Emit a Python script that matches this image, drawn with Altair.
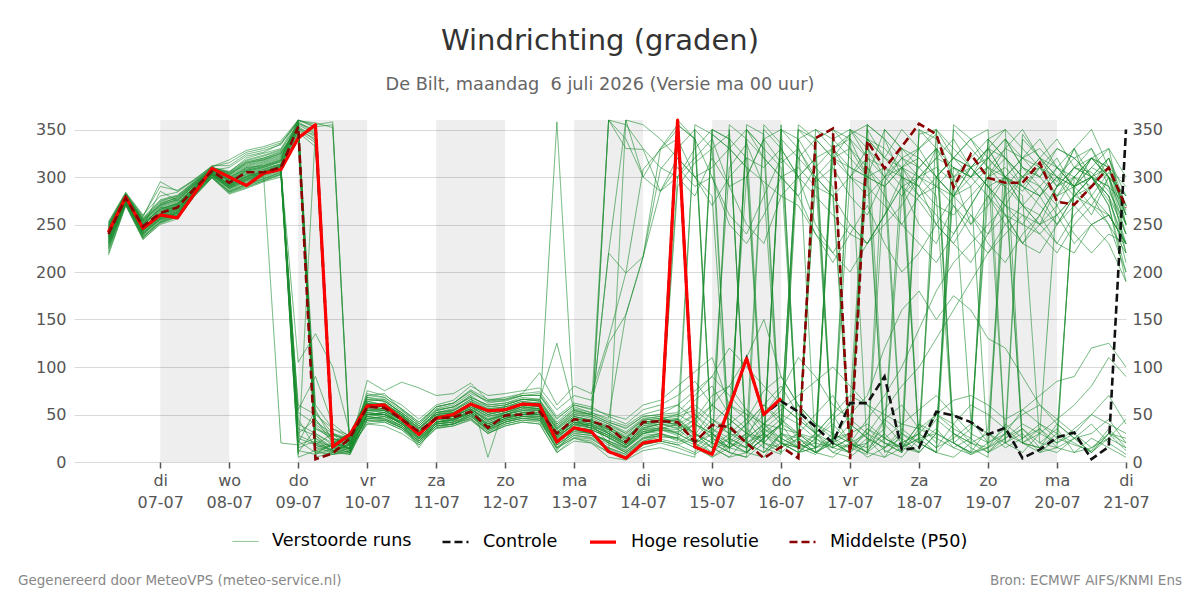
import altair as alt
import pandas as pd

FONT = "DejaVu Sans"

# Forecast steps: hours after maandag 06-07 00 uur, every 6 hours up to 21-07 00 uur
hours = [6 + 6 * i for i in range(60)]

# Hoge resolutie run (runs until 16-07 00 uur)
hres = [242, 279, 246, 260, 257, 283, 309, 300, 291, 304,
        308, 341, 355, 16, 29, 59, 60, 45, 29, 46,
        50, 61, 54, 55, 61, 60, 21, 36, 32, 11,
        4, 20, 23, 360, 16, 8, 58, 109, 50, 67]

# Controle run
control = hres[:39] + [64, 53, 37, 20, 62, 62, 90, 13, 15, 53, 49,
                       42, 29, 36, 4, 13, 26, 31, 3, 16, 350]

# Middelste (P50) of the ensemble
p50 = [240, 278, 248, 262, 268, 288, 306, 294, 305, 305, 310,
       353, 3, 9, 25,
       58, 57, 45, 32, 46, 47, 53, 36, 49, 50, 53,
       30, 45, 43, 37, 21, 42, 43,
       42, 21, 39, 37, 20, 4, 16,
       4, 341, 351, 3, 338, 309, 332, 356, 345, 289,
       324, 299, 294, 294, 315, 274, 271, 290, 310, 268]

# Verstoorde runs (50 members)
perturbed_runs = [
    [238,276,245,258,262,285,304,292,300,306,312, 352,18,12,20, 55,52,40,28,44,48,58,45,50,56,55, 30,42,38,25,15,30,35,
     40,28,55,310,335,290,20,15,300,320,345,12,30,280,300,310,295,45,20,290,310,300,320,285,260,300,240],
    [232,274,240,255,260,283,302,288,296,302,308, 15,22,12,18, 62,58,48,35,50,52,60,50,54,60,58, 25,40,45,30,20,35,40,
     45,20,30,15,25,60,40,350,330,20,10,35,25,15,40,30,20,10,35,300,285,310,295,330,280,305,270],
    [245,280,252,266,272,290,308,298,310,312,318, 355,30,20,15, 48,45,38,22,40,42,55,38,46,52,50, 18,30,28,15,8,22,28,
     290,315,330,345,10,25,340,320,300,280,15,8,295,320,310,330,20,35,280,250,230,260,290,310,300,275,230],
    [225,272,238,252,258,282,300,285,292,298,305, 30,45,20,14, 66,64,52,38,55,58,68,60,62,66,65, 40,55,50,42,35,48,50,
     60,45,70,80,55,40,25,15,30,50,20,10,45,60,35,25,15,8,20,30,55,40,25,18,12,35,15],
    [250,282,255,270,276,292,306,302,315,318,325, 355,345,20,15, 40,38,30,18,35,38,45,30,38,42,40, 10,25,20,5,2,12,15,
     10,5,350,340,320,15,8,355,340,20,300,330,310,290,275,250,230,260,240,280,300,320,290,310,305,285,250],
    [218,270,235,250,256,280,299,282,288,295,300, 8,350,15,10, 58,62,50,30,48,50,62,55,55,62,62, 28,38,40,20,10,25,30,
     25,40,30,50,300,340,350,20,10,330,345,355,25,15,10,30,290,310,320,300,270,250,290,330,350,310,260],
    [242,279,250,264,270,289,307,296,306,310,316, 348,45,25,18, 70,72,55,40,58,62,75,62,65,70,72, 45,60,55,50,45,60,65,
     80,95,110,60,45,75,90,60,40,25,50,70,120,160,180,150,175,160,130,120,90,60,45,30,50,70,40],
    [236,277,246,260,268,287,305,293,303,300,20, 18,25,10,8, 45,48,42,25,42,45,50,35,44,48,46, 12,35,32,360,355,330,310,
     300,280,320,290,300,340,315,330,295,310,280,260,300,320,330,345,300,310,290,270,250,280,300,290,320,310,290],
    [248,281,256,275,280,295,310,305,320,325,330, 360,352,25,18, 52,50,42,30,45,46,52,40,48,50,52, 26,40,38,30,18,38,40,
     35,20,5,15,30,355,335,10,25,40,20,30,12,5,25,30,310,290,10,20,340,320,310,290,300,320,260],
    [230,275,242,257,264,284,303,290,298,304,310, 40,30,18,22, 62,55,45,32,48,50,58,48,52,58,56, 30,48,42,38,25,40,45,
     50,60,45,30,25,40,35,30,20,15,25,10,350,330,320,300,280,310,330,320,300,290,310,330,300,280,220],
    [244,278,249,268,266,288,306,300,308,314,320, 358,10,8,12, 50,50,40,25,42,44,52,36,45,50,50, 20,35,30,22,15,28,30,
     25,15,30,10,5,20,355,10,15,25,8,340,320,310,290,330,300,250,270,300,320,310,290,300,280,260,230],
    [228,273,239,256,262,286,304,287,294,300,306, 5,12,8,15, 56,60,48,34,52,55,66,56,58,64,60, 35,50,48,40,30,45,48,
     40,65,80,50,35,20,40,60,30,10,5,20,45,30,15,50,35,25,10,30,20,15,40,25,10,30,12],
    [252,283,258,295,285,298,311,318,328,332,338, 360,355,358,12, 75,70,60,45,60,65,80,70,72,75,78, 55,70,65,125,155,216,285,
     300,320,340,290,250,230,280,270,240,220,250,230,260,300,290,250,230,210,240,260,230,250,270,240,220,240,230],
    [240,277,247,263,270,290,308,295,305,309,314, 345,25,15,22, 48,46,36,20,38,40,50,32,42,48,46, 15,28,25,12,5,18,22,
     18,10,25,40,20,10,30,25,15,340,350,320,300,280,310,330,30,20,340,320,300,310,280,290,300,320,270],
    [234,276,243,259,265,285,302,289,297,303,309, 52,40,25,20, 60,58,46,30,46,50,60,52,54,60,60, 30,45,42,35,22,40,42,
     45,30,20,350,10,25,40,30,50,70,40,25,15,35,20,45,30,20,15,40,25,35,20,30,15,25,45],
    [246,280,254,272,278,293,309,304,316,320,327, 350,340,15,22, 42,44,36,22,38,40,48,34,42,46,44, 22,32,30,20,12,25,28,
     355,340,20,10,5,350,330,300,320,15,25,310,280,250,230,210,240,270,300,310,290,270,250,280,300,290,240],
    [222,271,236,253,260,281,300,284,290,296,302, 25,18,30,12, 64,66,50,36,52,56,70,58,60,66,64, 38,52,50,220,199,308,329,
     350,20,345,330,310,295,280,300,320,330,340,300,290,310,20,10,300,320,340,350,330,310,300,290,320,300,260],
    [239,278,248,285,275,292,307,310,322,326,335, 358,348,30,25, 54,56,44,28,46,50,60,46,52,58,56, 28,42,40,30,20,32,36,
     30,45,60,80,110,150,90,60,40,30,20,45,70,100,140,180,210,230,250,270,260,240,220,250,270,260,230],
    [243,279,251,266,273,291,309,299,309,313,319, 360,38,22,10, 50,52,42,26,42,45,54,40,48,52,52, 24,38,36,28,18,30,34,
     28,40,25,15,355,345,20,30,15,350,340,320,10,20,30,15,25,40,30,20,35,15,10,25,40,20,8],
    [231,274,241,256,263,284,303,291,299,305,311, 12,8,20,25, 58,54,44,30,46,48,56,44,50,56,54, 32,44,40,34,24,42,44,
     38,25,15,30,45,20,10,340,350,330,310,300,20,10,350,340,320,300,310,330,320,300,280,310,330,300,250],
    [247,281,253,270,277,294,308,303,313,318,324, 352,338,12,10, 44,42,34,18,36,40,46,30,40,44,42, 15,25,22,10,360,355,340,
     320,300,280,15,10,5,30,20,10,25,350,330,300,310,320,300,280,290,310,20,30,10,15,300,320,310,270],
    [237,276,244,261,267,286,304,292,301,306,312, 350,12,18,25, 68,66,54,40,56,60,72,64,64,70,70, 42,58,52,44,38,50,55,
     60,75,90,70,50,40,55,70,85,100,80,60,50,40,35,50,65,70,60,45,55,70,85,90,120,125,100],
    [226,273,238,254,261,283,301,286,293,299,305, 60,50,35,28, 62,60,48,32,50,52,62,54,56,62,60, 34,48,44,36,28,44,46,
     42,30,350,20,15,30,10,25,300,280,250,230,260,290,300,320,310,300,280,260,250,240,260,280,270,250,220],
    [249,282,257,276,281,296,310,306,318,323,329, 356,350,18,28, 46,48,38,24,40,42,50,36,44,48,48, 20,34,30,22,12,26,30,
     22,355,345,330,310,10,20,15,8,25,30,355,340,320,300,280,20,10,15,30,345,320,300,280,290,310,250],
    [241,278,249,264,271,289,306,297,307,311,317, 353,52,30,20, 56,54,44,30,46,48,56,42,50,54,54, 28,42,38,32,20,36,40,
     36,50,30,20,40,60,45,30,15,20,10,25,5,15,40,20,350,330,310,300,320,340,310,290,300,280,210],
    [233,275,242,258,265,285,303,290,298,304,310, 35,28,15,10, 50,50,40,26,42,44,52,38,46,50,50, 22,36,34,26,16,32,36,
     360,340,15,5,25,40,20,10,30,320,330,310,290,15,25,300,320,340,350,20,10,30,280,300,320,330,300],
    [245,280,252,268,274,292,308,301,311,316,322, 347,332,22,14, 72,68,56,42,58,62,76,66,66,72,74, 48,62,58,48,40,55,60,
     70,85,60,45,30,50,75,110,90,60,45,30,55,80,100,130,160,190,220,240,260,250,230,260,280,250,200],
    [235,276,245,260,266,286,304,291,300,305,311, 342,20,10,15, 40,42,34,20,36,38,44,30,38,42,40, 10,22,20,10,5,15,20,
     15,8,20,10,350,330,15,25,10,5,20,15,30,10,345,350,320,310,290,300,280,20,35,10,15,30,25],
    [220,270,234,251,258,280,299,283,289,296,303, 20,55,22,30, 60,62,50,36,50,54,64,54,58,62,62, 36,50,46,38,30,44,46,
     48,55,40,30,20,35,50,40,25,15,350,340,330,310,300,290,270,250,280,300,290,310,330,320,300,280,240],
    [251,283,259,290,286,297,311,315,326,330,336, 359,357,352,8, 52,50,42,28,44,46,54,40,48,52,50, 358,45,35,360,340,300,285,
     310,290,300,250,230,260,300,280,240,210,240,270,230,200,220,250,280,260,230,210,240,260,230,220,250,230,190],
    [240,277,248,262,269,288,306,295,304,308,313, 356,8,14,28, 64,60,50,34,52,54,64,56,58,64,62, 36,52,48,40,32,46,48,
     50,40,60,45,30,25,350,340,10,20,30,40,25,15,30,50,40,20,10,25,40,30,20,35,50,40,30],
    [229,274,240,255,262,284,302,288,295,301,307, 45,15,10,18, 46,44,36,22,38,40,48,34,42,46,44, 16,28,26,15,8,20,24,
     20,30,15,5,10,35,25,15,20,340,320,300,350,330,310,290,280,300,320,340,310,290,270,300,320,300,280],
    [246,281,254,271,279,294,309,304,315,320,326, 353,342,10,20, 58,56,46,32,48,50,60,50,54,58,58, 30,46,42,34,26,42,44,
     44,350,330,20,10,25,40,340,310,290,15,20,35,310,280,260,240,270,300,330,350,320,300,270,250,260,230],
    [238,277,246,261,268,287,305,293,302,307,313, 349,35,25,12, 54,52,44,30,46,48,56,44,50,54,54, 26,40,36,28,18,34,38,
     30,20,40,60,50,30,20,10,15,30,20,10,25,40,55,70,50,30,20,35,50,60,40,25,30,45,20],
    [244,279,250,267,272,290,307,298,308,312,318, 357,15,20,30, 66,64,52,38,54,58,68,60,62,68,66, 40,56,52,46,155,216,308,
     330,350,20,15,340,320,300,280,310,330,300,290,270,250,280,300,320,310,330,300,290,280,310,290,270,300,220],
    [227,272,237,253,260,282,300,285,292,298,304, 10,35,28,24, 48,50,40,24,40,44,52,38,46,50,48, 18,32,30,20,10,24,28,
     24,15,5,20,30,15,350,330,300,20,10,355,340,300,20,10,30,15,5,340,320,330,310,300,290,320,280],
    [250,282,256,274,280,295,310,305,317,322,328, 357,346,28,24, 50,48,38,24,40,42,50,36,44,48,48, 20,34,30,22,14,30,32,
     300,330,350,340,20,30,15,320,340,350,330,300,310,20,10,350,330,310,290,270,300,320,340,310,300,290,270],
    [236,276,244,259,266,286,303,291,300,305,311, 344,28,12,18, 60,58,48,32,48,52,60,50,54,60,58, 32,46,42,34,24,40,42,
     40,50,35,25,15,40,60,45,30,20,40,25,15,30,20,10,355,340,320,300,20,15,30,290,310,330,250],
    [242,278,249,265,271,289,306,296,306,310,316, 351,42,30,22, 56,54,44,30,46,48,56,44,52,56,56, 28,42,38,30,20,36,40,
     38,25,45,35,20,10,30,15,340,320,300,280,300,330,20,35,15,25,300,320,290,280,300,320,330,290,230],
    [232,275,241,257,263,284,302,289,297,303,309, 28,20,12,8, 44,44,36,20,38,40,46,32,40,44,44, 14,26,24,14,6,18,22,
     18,25,10,355,340,20,15,30,25,10,20,5,15,25,10,30,20,8,15,25,35,20,15,10,25,15,5],
    [248,281,255,273,278,294,309,303,314,319,325, 349,336,16,12, 70,68,56,42,58,62,74,64,66,70,70, 46,60,56,360,330,329,285,
     320,300,310,330,350,320,300,310,290,280,300,320,310,300,290,270,260,280,300,290,270,250,260,280,300,270,200],
    [224,272,236,252,259,281,300,284,291,297,303, 55,90,40,26, 62,60,48,32,50,52,62,52,56,62,60, 34,48,44,36,26,42,44,
     46,30,20,40,55,35,20,10,25,45,60,350,320,300,280,290,310,300,330,350,20,10,25,290,310,300,250],
    [239,277,247,262,269,288,305,294,303,308,314, 346,18,8,10, 52,50,40,26,42,44,52,38,46,50,50, 24,36,34,26,16,32,34,
     32,40,30,15,350,330,310,20,10,25,15,30,20,10,35,300,320,340,310,290,20,35,15,25,10,30,20],
    [245,280,253,269,275,292,308,300,310,315,321, 359,60,35,25, 58,56,46,30,46,50,58,48,52,58,56, 30,44,40,32,22,38,42,
     40,30,15,25,40,60,80,50,30,15,10,340,320,350,330,300,280,310,330,300,270,260,290,310,320,300,280],
    [230,274,240,256,262,283,301,288,296,302,308, 105,135,100,30, 64,60,50,36,52,54,66,58,60,66,64, 38,54,50,42,36,48,50,
     52,70,90,120,100,80,60,45,30,50,70,60,40,20,30,15,40,60,50,35,20,30,45,60,80,110,90],
    [253,284,260,280,284,297,312,312,324,328,334, 360,353,355,16, 86,75,84,78,70,72,83,65,68,72,94, 60,80,72,130,199,216,329,
     340,300,270,300,320,310,330,300,280,260,240,230,250,270,300,320,340,310,290,260,230,220,250,280,300,270,190],
    [237,276,245,260,267,287,304,292,301,306,312, 340,22,16,14, 46,46,38,22,40,42,48,34,42,46,46, 18,30,28,18,10,22,26,
     26,18,35,20,10,25,40,15,350,340,20,10,5,30,350,330,310,300,320,340,310,300,330,320,300,310,265],
    [243,279,251,266,272,290,307,297,307,311,317, 354,5,10,20, 54,54,44,28,46,48,56,42,50,54,52, 26,40,36,28,18,34,36,
     34,45,25,15,30,20,40,350,340,320,310,300,290,310,330,350,20,10,340,320,300,280,250,270,290,310,260],
    [234,275,243,258,264,285,303,290,298,304,310, 22,10,18,14, 50,52,42,15,42,46,54,40,48,52,50, 22,36,34,26,16,30,34,
     30,20,10,25,15,30,45,25,10,20,15,35,20,15,25,10,5,20,30,15,25,40,30,20,10,25,15],
    [247,280,254,271,276,293,309,302,312,317,323, 351,344,20,30, 68,64,52,38,54,58,70,5,60,66,66, 125,54,50,220,360,300,330,
     355,340,300,260,240,280,320,300,250,220,200,230,260,290,250,230,270,240,220,250,270,290,260,230,250,260,230],
]

# Shaded days (every other day, start hour of each band)
shaded_starts = [24, 72, 120, 168, 216, 264, 312]

# Day ticks on the time axis
tick_hours = [24 * k for k in range(1, 16)]
day_names = ["di", "wo", "do", "vr", "za", "zo", "ma", "di",
             "wo", "do", "vr", "za", "zo", "ma", "di"]
day_dates = ["07-07", "08-07", "09-07", "10-07", "11-07", "12-07", "13-07", "14-07",
             "15-07", "16-07", "17-07", "18-07", "19-07", "20-07", "21-07"]
y_ticks = [0, 50, 100, 150, 200, 250, 300, 350]

series_names = ["Verstoorde runs", "Controle", "Hoge resolutie", "Middelste (P50)"]
series_colors = ["#1a8c2e", "#111111", "#ff0000", "#8b0000"]
series_dash = [[1, 0], [8, 4], [1, 0], [8, 4]]
series_width = [1, 2.6, 3.2, 2.6]
series_opacity = [0.65, 1, 1, 1]

W, H = 1052, 342

# ---- tables ----
runs_df = pd.DataFrame([
    {"member": m + 1, "hour": h, "value": v, "series": series_names[0]}
    for m, run in enumerate(perturbed_runs) for h, v in zip(hours, run)
])
ctrl_df = pd.DataFrame({"hour": hours, "value": control, "series": series_names[1]})
hres_df = pd.DataFrame({"hour": hours[:len(hres)], "value": hres, "series": series_names[2]})
p50_df = pd.DataFrame({"hour": hours, "value": p50, "series": series_names[3]})
bands_df = pd.DataFrame({"start": shaded_starts, "end": [s + 24 for s in shaded_starts]})


def js_list(items):
    return "[" + ",".join("'" + s + "'" for s in items) + "]"


idx = "(datum.value/24-1)"
label_expr = f"[{js_list(day_names)}[{idx}], {js_list(day_dates)}[{idx}]]"

x_axis = alt.Axis(
    values=tick_hours, labelExpr=label_expr, grid=False, domain=False,
    ticks=True, tickSize=6, tickWidth=1.5, tickColor="#555555",
    labelFont=FONT, labelFontSize=16, labelColor="#555555",
    labelOverlap=False, labelFlush=False, labelBound=False,
    labelPadding=4, labelLineHeight=22, labelAngle=0, title=None,
)
x_scale = alt.Scale(domain=[-6, 360], nice=False, zero=False)
y_scale = alt.Scale(domain=[0, 360], nice=False, zero=True)

y_left = alt.Axis(values=y_ticks, orient="left", grid=True, gridColor="#d9d9d9",
                  domain=False, ticks=False, tickSize=0, labelPadding=8,
                  labelFont=FONT, labelFontSize=16, labelColor="#555555", title=None)
y_right = alt.Axis(values=y_ticks, orient="right", grid=False,
                   domain=False, ticks=False, tickSize=0, labelPadding=6,
                   labelFont=FONT, labelFontSize=16, labelColor="#555555", title=None)


def style_channels():
    return dict(
        color=alt.Color("series:N", scale=alt.Scale(domain=series_names, range=series_colors),
                        legend=alt.Legend(title=None)),
        strokeDash=alt.StrokeDash("series:N", scale=alt.Scale(type="ordinal", domain=series_names,
                                                               range=series_dash),
                                  legend=alt.Legend(title=None)),
        strokeWidth=alt.StrokeWidth("series:N", scale=alt.Scale(type="ordinal", domain=series_names,
                                                                 range=series_width),
                                    legend=alt.Legend(title=None)),
        opacity=alt.Opacity("series:N", scale=alt.Scale(type="ordinal", domain=series_names,
                                                         range=series_opacity),
                            legend=alt.Legend(title=None)),
    )


bands = alt.Chart(bands_df).mark_rect(color="#000000", opacity=0.067).encode(
    x=alt.X("start:Q", scale=x_scale, axis=x_axis),
    x2="end:Q",
    y=alt.value(0),
    y2=alt.value(H),
)

runs = alt.Chart(runs_df).mark_line(strokeJoin="round").encode(
    x=alt.X("hour:Q", scale=x_scale, axis=x_axis),
    y=alt.Y("value:Q", scale=y_scale, axis=y_left),
    detail="member:N",
    **style_channels(),
)

ctrl = alt.Chart(ctrl_df).mark_line().encode(
    x=alt.X("hour:Q", scale=x_scale, axis=x_axis),
    y=alt.Y("value:Q", scale=y_scale, axis=None),
    **style_channels(),
)

hr = alt.Chart(hres_df).mark_line(strokeJoin="round").encode(
    x=alt.X("hour:Q", scale=x_scale, axis=x_axis),
    y=alt.Y("value:Q", scale=y_scale, axis=None),
    **style_channels(),
)

med = alt.Chart(p50_df).mark_line().encode(
    x=alt.X("hour:Q", scale=x_scale, axis=x_axis),
    y=alt.Y("value:Q", scale=y_scale, axis=y_right),
    **style_channels(),
)

footer_left = alt.Chart(pd.DataFrame({"t": ["Gegenereerd door MeteoVPS (meteo-service.nl)"]})).mark_text(
    align="left", baseline="alphabetic", font=FONT, fontSize=13.5, color="#888888"
).encode(text="t:N", x=alt.value(18 - 74), y=alt.value(585 - 120))

footer_right = alt.Chart(pd.DataFrame({"t": ["Bron: ECMWF AIFS/KNMI Ens"]})).mark_text(
    align="right", baseline="alphabetic", font=FONT, fontSize=13.5, color="#888888"
).encode(text="t:N", x=alt.value(1182 - 74), y=alt.value(585 - 120))

chart = alt.layer(bands, runs, ctrl, hr, med, footer_left, footer_right).resolve_axis(
    y="independent"
).properties(
    width=W,
    height=H,
    autosize=alt.AutoSizeParams(type="none"),
    padding={"left": 74, "top": 120, "right": 74, "bottom": 138},
    title=alt.TitleParams(
        text="Windrichting (graden)",
        subtitle="De Bilt, maandag\u00a0 6 juli 2026 (Versie ma 00 uur)",
        font=FONT, fontSize=29, fontWeight="normal", color="#333333",
        subtitleFont=FONT, subtitleFontSize=17.7, subtitleColor="#666666",
        subtitlePadding=20, anchor="middle", offset=21,
    ),
).configure_view(stroke=None).configure_legend(
    orient="none", legendX=158, legendY=407, direction="horizontal",
    symbolType="stroke", symbolSize=676, labelFont=FONT, labelFontSize=17.6,
    labelColor="#000000", labelOffset=13, columnPadding=25, padding=0,
)

chart.save("out.html", embed_options={"renderer": "svg", "actions": False})
